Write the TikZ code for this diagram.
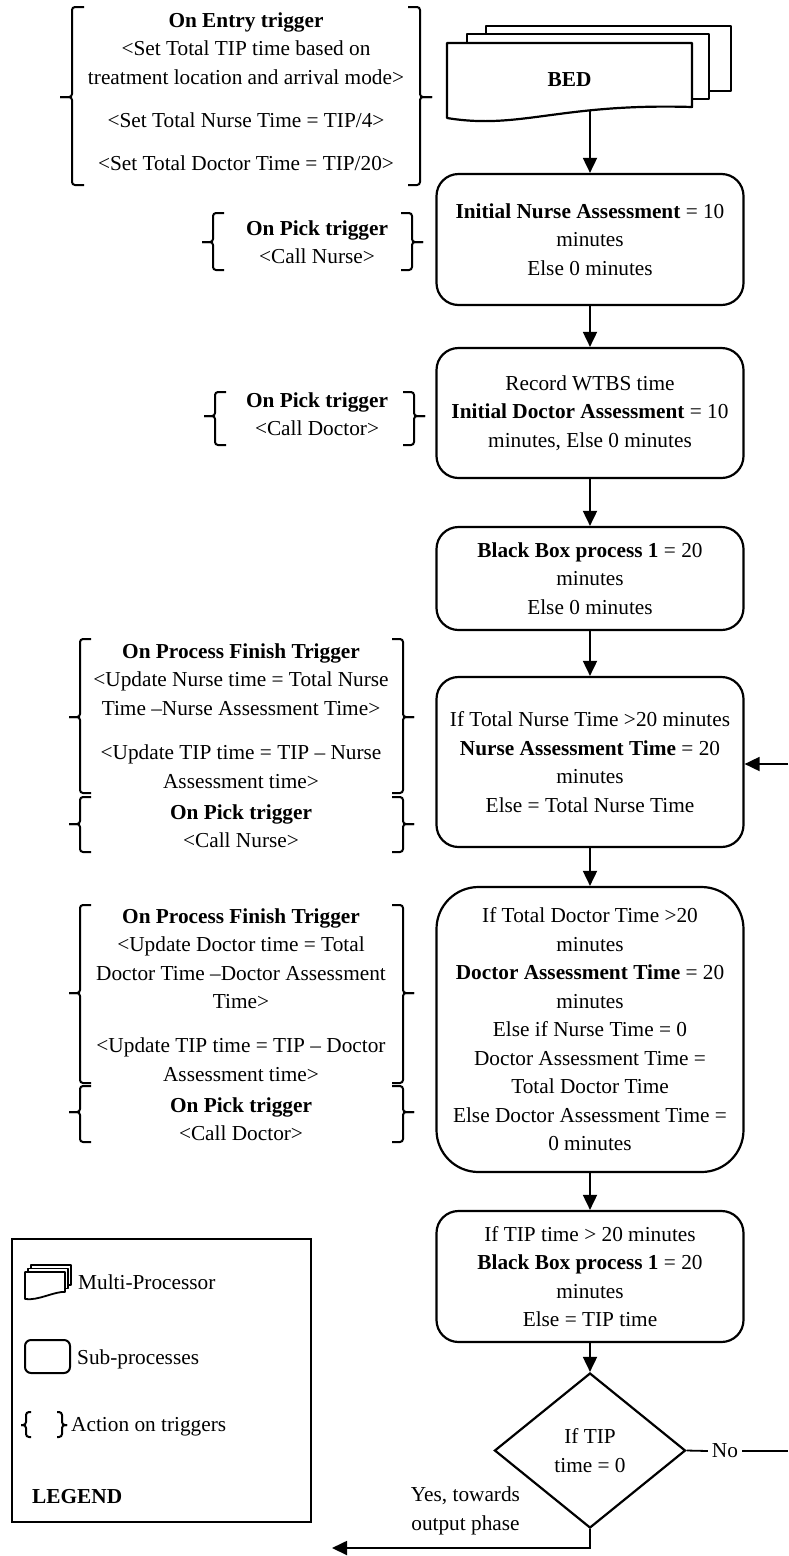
\documentclass[tikz,border=0pt]{standalone}
\usepackage{fontspec}
\setmainfont{Liberation Serif}
\usetikzlibrary{arrows.meta,shapes.geometric,calc}

% trigger brackets: x, top, bottom, tip y, hook length
\newcommand\trigL[5]{%
  \draw[brace] (#1+#5,#2) -- (#1,#2) -- (#1,#4) -- (#1-#5,#4);
  \draw[brace] (#1-#5,#4) -- (#1,#4) -- (#1,#3) -- (#1+#5,#3);}
\newcommand\trigR[5]{%
  \draw[brace] (#1-#5,#2) -- (#1,#2) -- (#1,#4) -- (#1+#5,#4);
  \draw[brace] (#1+#5,#4) -- (#1,#4) -- (#1,#3) -- (#1-#5,#3);}

\begin{document}
\begin{tikzpicture}[x=1pt,y=-1pt,
  every node/.style={font=\fontsize{21.3pt}{28.5pt}\selectfont},
  procbox/.style={draw, line width=2.2pt, rounded corners=22pt,
    minimum width=307pt, align=center, inner sep=0pt},
  trigtext/.style={align=center, inner sep=0pt},
  flow/.style={line width=1.8pt, -{Triangle[length=15pt,width=14pt]}},
  brace/.style={line width=2pt, rounded corners=3pt},
  decision/.style={draw, diamond, line width=2.2pt, minimum width=191pt,
    minimum height=155pt, inner sep=0pt, align=center},
  legtext/.style={anchor=west, inner sep=0pt},
  docshape/.style={line width=2.2pt, fill=white, line join=round}
]
\useasboundingbox (0,0) rectangle (788,1556);

% multi-document BED
\draw[docshape] (486,26) rectangle (731,91);
\draw[docshape] (467,34) rectangle (709,99);
\draw[docshape] (447,43) -- (692,43) -- (692,107)
  .. controls (560,103) and (520,130) .. (447,118) -- cycle;
\node (bed) at (569.5,80) {\textbf{BED}};
\coordinate (bedout) at (590,110);

% sub-processes
\node[procbox, minimum height=131pt] (box1) at (590,239.5)
  {\textbf{Initial Nurse Assessment} = 10\\minutes\\Else 0 minutes};
\node[procbox, minimum height=130pt] (box2) at (590,413)
  {Record WTBS time\\\textbf{Initial Doctor Assessment} = 10\\minutes, Else 0 minutes};
\node[procbox, minimum height=103pt] (box3) at (590,578.5)
  {\textbf{Black Box process 1} = 20\\minutes\\Else 0 minutes};
\node[procbox, minimum height=170pt] (box4) at (590,762)
  {If Total Nurse Time >20 minutes\\\textbf{Nurse Assessment Time} = 20\\minutes\\Else = Total Nurse Time};
\node[procbox, rounded corners=42pt, minimum height=285pt] (box5) at (590,1029.5)
  {If Total Doctor Time >20\\minutes\\\textbf{Doctor Assessment Time} = 20\\minutes\\Else if Nurse Time = 0\\Doctor Assessment Time =\\Total Doctor Time\\Else Doctor Assessment Time =\\0 minutes};
\node[procbox, minimum height=131pt] (box6) at (590,1276.5)
  {If TIP time > 20 minutes\\\textbf{Black Box process 1} = 20\\minutes\\Else = TIP time};
\node[decision] (dec) at (590,1450.5) {If TIP\\time = 0};
\node[inner sep=4pt] (no) at (725,1451) {No};
\node[trigtext] (yes) at (465.5,1511) {Yes, towards\\output phase};
\coordinate (noend) at (788,1451);
\coordinate (back) at (788,764);
\coordinate (yesend) at (332,1548);

% connectors
\draw[flow] (bedout) -- (box1.north);
\draw[flow] (box1) -- (box2);
\draw[flow] (box2) -- (box3);
\draw[flow] (box3) -- (box4);
\draw[flow] (box4) -- (box5);
\draw[flow] (box5) -- (box6);
\draw[flow] (box6) -- (dec);
\draw[line width=1.8pt] (dec.east) -- (no.west);
\draw[line width=1.8pt] (no.east) -- (noend);
\draw[flow] (back) -- (back -| box4.east);
\draw[flow] (dec.south) |- (yesend);

% trigger actions
\node[trigtext] (entry) at (246,91.5)
  {\textbf{On Entry trigger}\\<Set Total TIP time based on\\treatment location and arrival mode>\\[14.5pt]<Set Total Nurse Time = TIP/4>\\[14.5pt]<Set Total Doctor Time = TIP/20>};
\trigL{72}{7}{185}{97}{12}
\trigR{420}{7}{185}{97}{12}

\node[trigtext] (pick1) at (317,242) {\textbf{On Pick trigger}\\<Call Nurse>};
\trigL{213}{213}{270}{242}{11}
\trigR{412}{213}{270}{242}{11}

\node[trigtext] (pick2) at (317,414) {\textbf{On Pick trigger}\\<Call Doctor>};
\trigL{215}{392}{445}{416}{11}
\trigR{414}{392}{445}{416}{11}

\node[trigtext] (finN) at (241,716)
  {\textbf{On Process Finish Trigger}\\<Update Nurse time = Total Nurse\\Time –Nurse Assessment Time>\\[16pt]<Update TIP time = TIP – Nurse\\Assessment time>};
\trigL{80}{639}{793}{717}{11}
\trigR{403}{639}{793}{717}{11}

\node[trigtext] (pickN) at (241,826) {\textbf{On Pick trigger}\\<Call Nurse>};
\trigL{80}{797}{852}{824}{11}
\trigR{403}{797}{852}{824}{11}

\node[trigtext] (finD) at (241,995)
  {\textbf{On Process Finish Trigger}\\<Update Doctor time = Total\\Doctor Time –Doctor Assessment\\Time>\\[15.5pt]<Update TIP time = TIP – Doctor\\Assessment time>};
\trigL{80}{905}{1083}{993}{11}
\trigR{403}{905}{1083}{993}{11}

\node[trigtext] (pickD) at (241,1119) {\textbf{On Pick trigger}\\<Call Doctor>};
\trigL{80}{1086}{1142}{1112}{11}
\trigR{403}{1086}{1142}{1112}{11}

% legend
\node[draw, line width=2pt, minimum width=299pt, minimum height=283pt, inner sep=0pt] (legend) at (161.5,1380.5) {};
\draw[docshape, line width=1.8pt] (31,1265) rectangle (71,1285);
\draw[docshape, line width=1.8pt] (28,1268.5) rectangle (68,1288.5);
\draw[docshape, line width=1.8pt] (25,1272) -- (65,1272) -- (65,1292)
  .. controls (55,1291) and (38,1301) .. (25,1299) -- cycle;
\node[legtext] (lmulti) at (78,1282) {Multi-Processor};
\draw[line width=2pt, rounded corners=6pt] (25,1340) rectangle (70,1373);
\node[legtext] (lsub) at (77,1359) {Sub-processes};
\trigL{26}{1412}{1437}{1425}{5}
\trigR{62}{1412}{1437}{1425}{5}
\node[legtext] (ltrig) at (71,1427) {Action on triggers};
\node[legtext] (lleg) at (32,1497) {\textbf{LEGEND}};
\end{tikzpicture}
\end{document}
